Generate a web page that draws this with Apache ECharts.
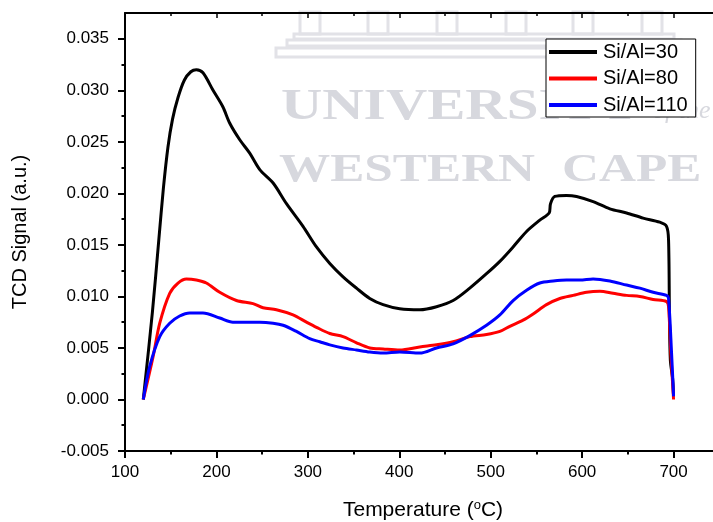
<!DOCTYPE html>
<html><head><meta charset="utf-8">
<script src="https://cdn.jsdelivr.net/npm/echarts@6/dist/echarts.min.js"></script>
<style>html,body{margin:0;padding:0;background:#fff}#c{width:713px;height:522px}</style>
</head><body><div id="c"></div>
<script>
// ---- data ----
const seriesNames = ['Si/Al=30', 'Si/Al=80', 'Si/Al=110'];
const seriesColors = ['#000000', '#ff0000', '#0000ff'];

const tempSi30 = [120, 130, 137, 142, 147, 152, 158, 165, 172, 178, 185.3, 196.3, 207, 214.6, 225.5, 236.4, 247.4, 262, 276.6, 294.7, 309.4, 324, 338.5, 353.2, 367.7, 382.3, 400.5, 422.4, 440.7, 458.9, 477.1, 495.4, 510, 524.5, 539.2, 553.7, 563.9, 565.4, 570.1, 582.9, 593.9, 612, 630.3, 648.6, 666.7, 684.9, 692.3, 694.5, 695.5, 696.5, 699, 700];
const sigSi30  = [0, 0.0085, 0.0155, 0.0205, 0.0245, 0.0272, 0.0293, 0.0310, 0.0318, 0.0320, 0.0317, 0.0300, 0.0284, 0.0268, 0.0252, 0.0239, 0.0223, 0.0210, 0.0190, 0.0168, 0.0148, 0.0132, 0.0119, 0.0108, 0.0098, 0.0092, 0.0088, 0.0087, 0.0090, 0.0096, 0.0108, 0.0122, 0.0134, 0.0148, 0.0163, 0.0174, 0.0181, 0.0190, 0.0197, 0.0198, 0.0197, 0.0192, 0.0185, 0.0181, 0.0176, 0.0172, 0.0168, 0.0155, 0.0080, 0.0038, 0.0020, 0.0003];

const tempSi80 = [120, 130.6, 138, 148.9, 158, 167.2, 178, 189, 203.6, 221.9, 240, 251, 265.6, 283.8, 298.5, 309.4, 324, 338.5, 353.2, 367.7, 382.3, 400.5, 422.4, 440.7, 458.9, 477.1, 495.4, 510, 520.9, 535.4, 546.4, 561, 575.6, 590.2, 604.8, 619.4, 633.9, 648.6, 663.1, 677.7, 692.3, 694.5, 697, 700];
const sigSi80  = [0, 0.0041, 0.0074, 0.0103, 0.0113, 0.0117, 0.0116, 0.0113, 0.0104, 0.0096, 0.0093, 0.0089, 0.0087, 0.0082, 0.0075, 0.0070, 0.0064, 0.0061, 0.0055, 0.0050, 0.0049, 0.0048, 0.0051, 0.0053, 0.0056, 0.0061, 0.0063, 0.0066, 0.0071, 0.0077, 0.0083, 0.0092, 0.0098, 0.0101, 0.0104, 0.0105, 0.0103, 0.0101, 0.0100, 0.0097, 0.0095, 0.0090, 0.0045, 0.0000];

const tempSi110 = [120, 127, 138, 148.9, 159.8, 170.8, 185.3, 203.6, 218, 232.8, 247.4, 262, 272.9, 287.5, 302, 313, 324, 338.5, 353.2, 367.7, 382.3, 400.5, 422.4, 440.7, 458.9, 477.1, 495.4, 510, 524.5, 539.2, 553.7, 568.3, 582.9, 597.5, 612, 630.3, 648.6, 663.1, 677.7, 692.3, 694.5, 697.8, 700];
const sigSi110  = [0, 0.0032, 0.0061, 0.0074, 0.0081, 0.0084, 0.0084, 0.0079, 0.0075, 0.0075, 0.0075, 0.0074, 0.0072, 0.0066, 0.0059, 0.0056, 0.0053, 0.0050, 0.0048, 0.0046, 0.0045, 0.0046, 0.0045, 0.0050, 0.0054, 0.0062, 0.0072, 0.0082, 0.0096, 0.0106, 0.0113, 0.0115, 0.0116, 0.0116, 0.0117, 0.0115, 0.0111, 0.0108, 0.0104, 0.0101, 0.0098, 0.0045, 0.0003];

const xTicks = [100, 200, 300, 400, 500, 600, 700];
const yTicks = [-0.005, 0, 0.005, 0.010, 0.015, 0.020, 0.025, 0.030, 0.035];
const yMinorTicks = [-0.0025, 0.0025, 0.0075, 0.0125, 0.0175, 0.0225, 0.0275, 0.0325];

// ---- chart ----
const FONT = 'Liberation Sans, Arial, sans-serif';
const zip = (xs, ys) => xs.map((x, i) => [x, ys[i]]);
const allTemps = [tempSi30, tempSi80, tempSi110];
const allSigs = [sigSi30, sigSi80, sigSi110];

const chart = echarts.init(document.getElementById('c'), null, {renderer: 'canvas'});
const wm = '#d7d8de';
const wmb = '#e2e2e7';
const option = {
  animation: false,
  backgroundColor: '#ffffff',
  grid: {left: 125, top: 13, width: 640, height: 438, containLabel: false, outerBoundsMode: 'none'},
  graphic: [
    // faint watermark (building + text)
    {type: 'rect', z: 0, shape: {x: 300, y: 12, width: 20, height: 22}, style: {fill: 'none', stroke: wmb, lineWidth: 3}},
    {type: 'rect', z: 0, shape: {x: 368, y: 12, width: 20, height: 22}, style: {fill: 'none', stroke: wmb, lineWidth: 3}},
    {type: 'rect', z: 0, shape: {x: 437, y: 12, width: 20, height: 22}, style: {fill: 'none', stroke: wmb, lineWidth: 3}},
    {type: 'rect', z: 0, shape: {x: 506, y: 12, width: 20, height: 22}, style: {fill: 'none', stroke: wmb, lineWidth: 3}},
    {type: 'rect', z: 0, shape: {x: 573, y: 12, width: 20, height: 22}, style: {fill: 'none', stroke: wmb, lineWidth: 3}},
    {type: 'rect', z: 0, shape: {x: 642, y: 12, width: 20, height: 22}, style: {fill: 'none', stroke: wmb, lineWidth: 3}},
    {type: 'rect', z: 0, shape: {x: 294, y: 34, width: 380, height: 5}, style: {fill: 'none', stroke: wmb, lineWidth: 3}},
    {type: 'rect', z: 0, shape: {x: 287, y: 40, width: 394, height: 6}, style: {fill: 'none', stroke: wmb, lineWidth: 3}},
    {type: 'rect', z: 0, shape: {x: 276, y: 48, width: 412, height: 9}, style: {fill: 'none', stroke: wmb, lineWidth: 3}},
    {type: 'text', z: 0, x: 281, y: 86, scaleX: 1.3, style: {text: 'UNIVERSITY', font: 'bold 44px "Liberation Serif", serif', fill: wm}},
    {type: 'text', z: 0, x: 652, y: 98, style: {text: 'of the', font: 'italic 26px "Liberation Serif", serif', fill: wm}},
    {type: 'text', z: 0, x: 279, y: 151, scaleX: 1.28, style: {text: 'WESTERN', font: 'bold 40px "Liberation Serif", serif', fill: wm}},
    {type: 'text', z: 0, x: 562, y: 151, scaleX: 1.28, style: {text: 'CAPE', font: 'bold 40px "Liberation Serif", serif', fill: wm}}
  ],
  legend: {
    show: true,
    left: 546, top: 39,
    orient: 'vertical',
    data: seriesNames,
    icon: 'rect',
    itemWidth: 48, itemHeight: 4,
    itemGap: 6.5,
    padding: [3, 8, 2, 3],
    backgroundColor: '#ffffff',
    borderColor: '#000000', borderWidth: 1,
    textStyle: {fontFamily: FONT, fontSize: 20, color: '#000', padding: [0, 0, 0, 1]},
    z: 10
  },
  xAxis: [
    {
      type: 'value', position: 'bottom', min: 100, max: 800, interval: 100,
      name: 'Temperature ({sup|o}C)', nameLocation: 'middle', nameGap: 48,
      nameTextStyle: {fontFamily: FONT, fontSize: 21, color: '#000', padding: [0, 44, 0, 0],
        rich: {sup: {fontFamily: FONT, fontSize: 13, color: '#000', verticalAlign: 'top', padding: [0, 0, 10, 0]}}},
      axisLine: {show: true, onZero: false, lineStyle: {color: '#000', width: 2}},
      axisTick: {show: true, inside: false, length: 7, lineStyle: {color: '#000', width: 2}},
      minorTick: {show: true, splitNumber: 2, length: 3.5, lineStyle: {color: '#000', width: 2}},
      axisLabel: {show: true, margin: 13, fontFamily: FONT, fontSize: 17, color: '#000',
        customValues: xTicks, formatter: v => String(Math.round(v))},
      splitLine: {show: false}
    },
    {
      type: 'value', position: 'top', min: 100, max: 800, interval: 100,
      axisLine: {show: true, onZero: false, lineStyle: {color: '#000', width: 2}},
      axisTick: {show: true, inside: true, length: 5, lineStyle: {color: '#000', width: 1.5}},
      minorTick: {show: true, splitNumber: 2, length: 3, lineStyle: {color: '#000', width: 1.5}},
      axisLabel: {show: false},
      splitLine: {show: false}
    }
  ],
  yAxis: [
    {
      type: 'value', position: 'left', min: -0.005, max: 0.0375, interval: 0.005,
      name: 'TCD Signal (a.u.)', nameLocation: 'middle', nameGap: 95,
      nameTextStyle: {fontFamily: FONT, fontSize: 20, color: '#000'},
      axisLine: {show: true, onZero: false, lineStyle: {color: '#000', width: 2}},
      axisTick: {show: true, inside: false, length: 7, customValues: yTicks, lineStyle: {color: '#000', width: 2}},
      axisLabel: {show: true, margin: 16, fontFamily: FONT, fontSize: 17, color: '#000',
        customValues: yTicks, formatter: v => v.toFixed(3)},
      splitLine: {show: false}
    },
    {
      type: 'value', position: 'left', min: -0.005, max: 0.0375, interval: 0.0025,
      axisLine: {show: false},
      axisTick: {show: true, inside: false, length: 3.5, customValues: yMinorTicks, lineStyle: {color: '#000', width: 2}},
      axisLabel: {show: false},
      splitLine: {show: false}
    }
  ],
  series: seriesNames.map((name, i) => ({
    name: name,
    type: 'line',
    xAxisIndex: 0, yAxisIndex: 0,
    data: zip(allTemps[i], allSigs[i]),
    showSymbol: false, symbol: 'none',
    smooth: 0.3,
    lineStyle: {color: seriesColors[i], width: 3},
    itemStyle: {color: seriesColors[i]},
    z: 3 + i
  }))
};
chart.setOption(option);
</script>
</body></html>
